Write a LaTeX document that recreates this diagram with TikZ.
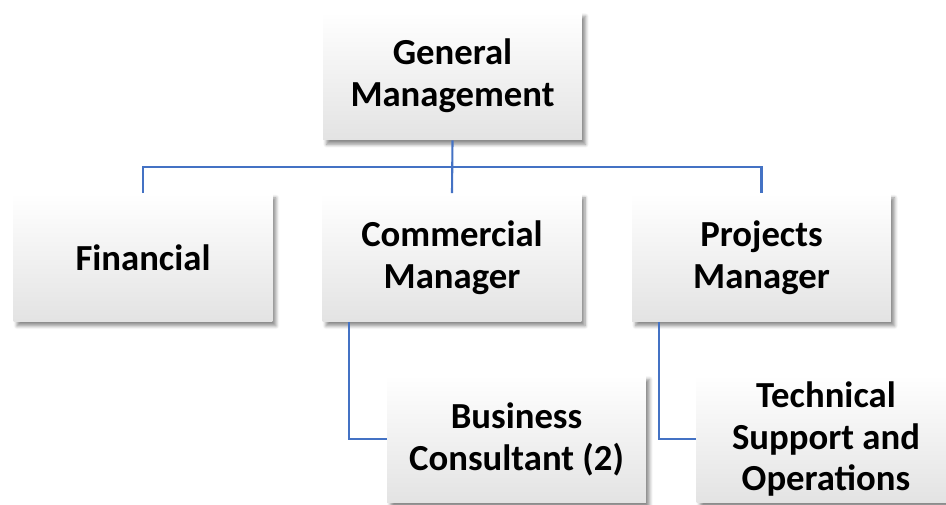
\documentclass[tikz,border=0pt]{standalone}
\usepackage{fontspec}
\setmainfont{Carlito}
\usetikzlibrary{positioning,shadows.blur}
\definecolor{linkblue}{RGB}{68,114,196}
\tikzset{
    unit/.style={draw=none, align=center, font=\bfseries\fontsize{20.9}{23.8}\selectfont,
        minimum width=5.18cm, minimum height=2.56cm, inner sep=0pt,
        top color=white, middle color=white, bottom color=black!11,
        blur shadow={shadow xshift=2pt, shadow yshift=-2.5pt, shadow blur steps=6, shadow opacity=45}},
    link/.style={draw=linkblue, line width=1.2pt}
}

\begin{document}
\begin{tikzpicture}[x=0.02cm, y=-0.02cm]
\useasboundingbox (0,0) rectangle (946,504);

\node[unit] (gm) at (452.5,76) {General\\Management};
\node[unit] (fin) at (143,257.5) {Financial};
\node[unit] (com) at (452,257.5) {Commercial\\Manager};
\node[unit] (proj) at (761.5,257.5) {Projects\\Manager};
\node[unit] (bus) at (516.5,439) {Business\\Consultant (2)};
\node[unit] (tech) at (826,439) {Technical\\Support and\\Operations};

\coordinate (bar) at (452.5,167);
\draw[link] (gm.south) -- (com.north);
\draw[link] (fin.north) |- (bar) -| (proj.north);
\draw[link] ([xshift=0.54cm]com.south west) |- (bus.west);
\draw[link] ([xshift=0.54cm]proj.south west) |- (tech.west);
\end{tikzpicture}
\end{document}
